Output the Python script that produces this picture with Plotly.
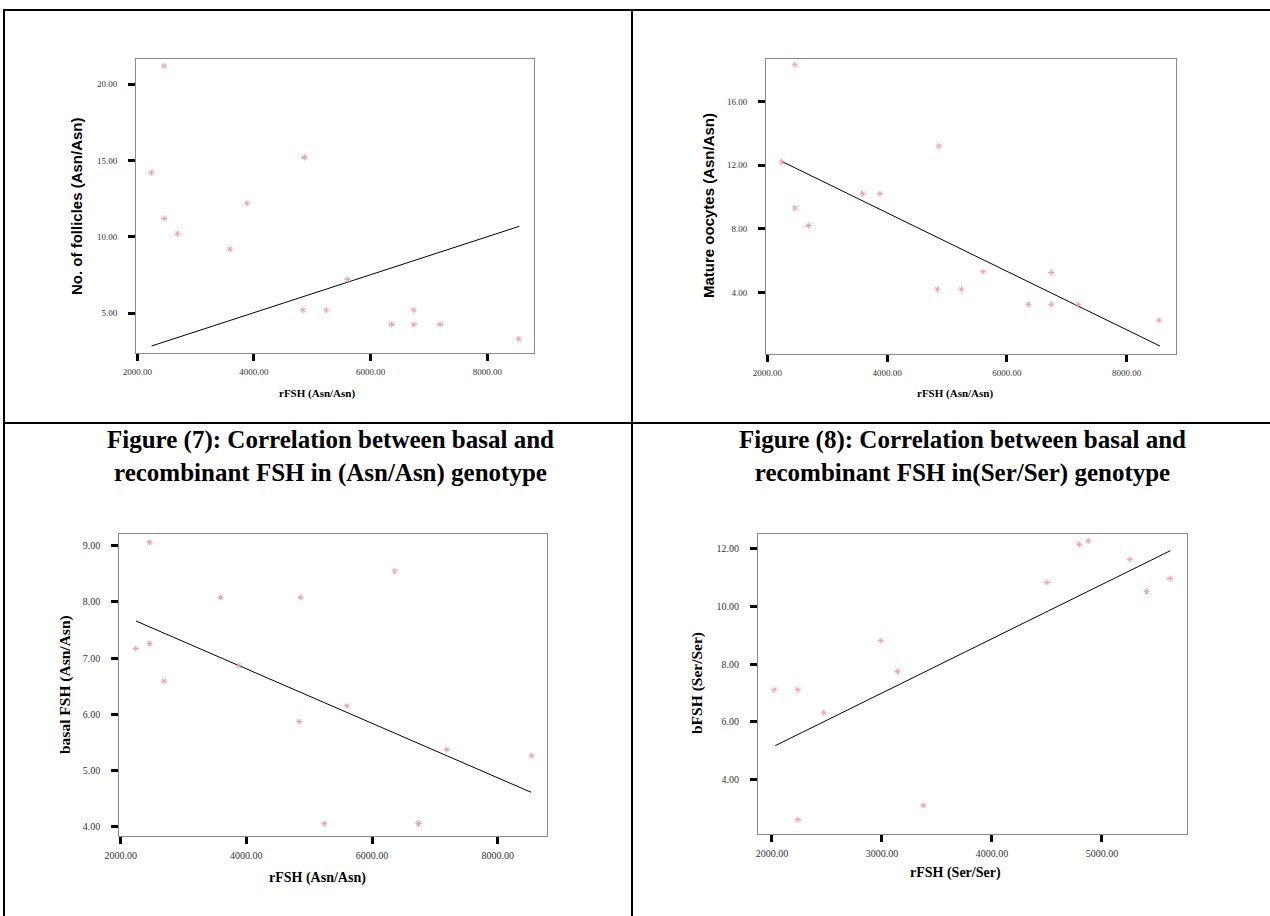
import plotly.graph_objects as go

W, H = 1270, 916

# ---------------- data ----------------
rfsh_asn = [2240, 2460, 2460, 2690, 3590, 3880, 4840, 4865, 5240, 5600, 6360, 6740, 6740, 7190, 8540]
follicles = [14.2, 21.2, 11.2, 10.2, 9.2, 12.2, 5.2, 15.2, 5.2, 7.2, 4.25, 5.2, 4.25, 4.25, 3.3]
oocytes = [12.2, 18.3, 9.3, 8.2, 10.2, 10.2, 4.2, 13.2, 4.2, 5.3, 3.25, 5.25, 3.25, 3.25, 2.25]
basal_fsh = [7.17, 9.06, 7.26, 6.59, 8.08, 6.87, 5.87, 8.08, 4.05, 6.15, 8.55, 4.05, 4.05, 5.37, 5.26]

rfsh_ser = [2020, 2235, 2235, 2470, 2990, 3140, 3375, 4500, 4795, 4875, 5255, 5405, 5620]
bfsh_ser = [7.12, 7.12, 2.62, 6.32, 8.82, 7.75, 3.11, 10.83, 12.15, 12.27, 11.63, 10.52, 10.97]

fit1_x, fit1_y = [2245, 8550], [2.84, 10.69]
fit2_x, fit2_y = [2240, 8555], [12.23, 0.63]
fit3_x, fit3_y = [2244, 8530], [7.66, 4.61]
fit4_x, fit4_y = [2030, 5621], [5.18, 11.93]

x_titles = ["rFSH (Asn/Asn)", "rFSH (Asn/Asn)", "rFSH (Asn/Asn)", "rFSH (Ser/Ser)"]
y_titles = ["No. of follicles (Asn/Asn)", "Mature oocytes (Asn/Asn)", "basal FSH (Asn/Asn)", "bFSH (Ser/Ser)"]
captions = [
    "Figure (7): Correlation between basal and<br>recombinant FSH in (Asn/Asn) genotype",
    "Figure (8): Correlation between basal and<br>recombinant FSH in(Ser/Ser) genotype",
]

SERIF = "Liberation Serif, Times New Roman, serif"
SANS = "Liberation Sans, Arial, sans-serif"
MARK = "#f4a0a0"


def px(x):
    return x / W


def py(y):
    return 1 - y / H


fig = go.Figure()

series = [
    (rfsh_asn, follicles, fit1_x, fit1_y),
    (rfsh_asn, oocytes, fit2_x, fit2_y),
    (rfsh_asn, basal_fsh, fit3_x, fit3_y),
    (rfsh_ser, bfsh_ser, fit4_x, fit4_y),
]

for i, (sx, sy, fx, fy) in enumerate(series, start=1):
    xa = "x" if i == 1 else f"x{i}"
    ya = "y" if i == 1 else f"y{i}"
    fig.add_trace(go.Scatter(x=fx, y=fy, mode="lines", xaxis=xa, yaxis=ya,
                             line=dict(color="black", width=1), showlegend=False,
                             hoverinfo="skip"))
    fig.add_trace(go.Scatter(x=sx, y=sy, mode="markers", xaxis=xa, yaxis=ya,
                             marker=dict(symbol="asterisk-open", size=5,
                                         line=dict(color=MARK, width=1), color=MARK),
                             showlegend=False))

# domains in pixels: (x0, x1, ytop, ybottom)
doms = [
    (136, 534, 59, 353),
    (766, 1176, 59, 354),
    (119.3, 546.7, 534, 836),
    (758, 1187.3, 534.3, 834.3),
]
xranges = [[1978, 8800], [1978, 8823], [1978, 8780], [1873, 5776]]
yranges = [[2.38, 21.66], [0.13, 18.66], [3.83, 9.21], [2.11, 12.5]]
xdt = [2000, 2000, 2000, 1000]
ydt = [5, 4, 1, 2]
tick_sizes = [9, 9, 10, 10]

layout = dict(
    width=W, height=H, autosize=False,
    margin=dict(l=0, r=0, t=0, b=0, pad=0, autoexpand=False),
    paper_bgcolor="white", plot_bgcolor="white",
    showlegend=False,
)

for i in range(4):
    x0, x1, yt, yb = doms[i]
    sfx = "" if i == 0 else str(i + 1)
    common = dict(showgrid=False, zeroline=False, showline=True, mirror=True,
                  linecolor="#8a8a8a", linewidth=1, automargin=False,
                  ticks="outside", ticklen=7, tickwidth=3, tickcolor="black",
                  tickformat=".2f",
                  tickfont=dict(family=SERIF, size=tick_sizes[i], color="#333333"))
    layout["xaxis" + sfx] = dict(common, domain=[px(x0), px(x1)],
                                 anchor="y" + sfx, range=xranges[i],
                                 tick0=0, dtick=xdt[i], ticklabelstandoff=3)
    layout["yaxis" + sfx] = dict(common, domain=[py(yb), py(yt)],
                                 anchor="x" + sfx, range=yranges[i],
                                 tick0=0, dtick=ydt[i], ticklabelstandoff=9)

fig.update_layout(**layout)

# table lines
lw = 2
shapes = [
    dict(x0=px(3), x1=1, y0=py(10), y1=py(10)),
    dict(x0=px(3), x1=1, y0=py(423), y1=py(423)),
    dict(x0=px(4), x1=px(4), y0=py(10), y1=0),
    dict(x0=px(632), x1=px(632), y0=py(10), y1=0),
]
for s in shapes:
    fig.add_shape(type="line", xref="paper", yref="paper",
                  line=dict(color="black", width=lw), **s)

ann = []
# axis titles
xt_pos = [(317, 393, 11), (955, 393, 11), (317, 878, 14), (955, 873, 14)]
for (x, y, sz), t in zip(xt_pos, x_titles):
    ann.append(dict(x=px(x), y=py(y), text=f"<b>{t}</b>",
                    font=dict(family=SERIF, size=sz, color="black")))
yt_pos = [(76, 206, 15, SANS), (708, 206, 15, SANS), (65, 685, 15.5, SERIF), (697, 683, 15.5, SERIF)]
for (x, y, sz, fam), t in zip(yt_pos, y_titles):
    ann.append(dict(x=px(x), y=py(y), text=f"<b>{t}</b>", textangle=-90,
                    font=dict(family=fam, size=sz, color="black")))
# captions
for (x, y), t in zip([(330, 456), (962, 456)], captions):
    ann.append(dict(x=px(x), y=py(y), text=f"<b>{t}</b>",
                    font=dict(family=SERIF, size=25, color="black")))

for a in ann:
    fig.add_annotation(xref="paper", yref="paper", showarrow=False,
                       xanchor="center", yanchor="middle", **a)

fig.write_html("out.html")
